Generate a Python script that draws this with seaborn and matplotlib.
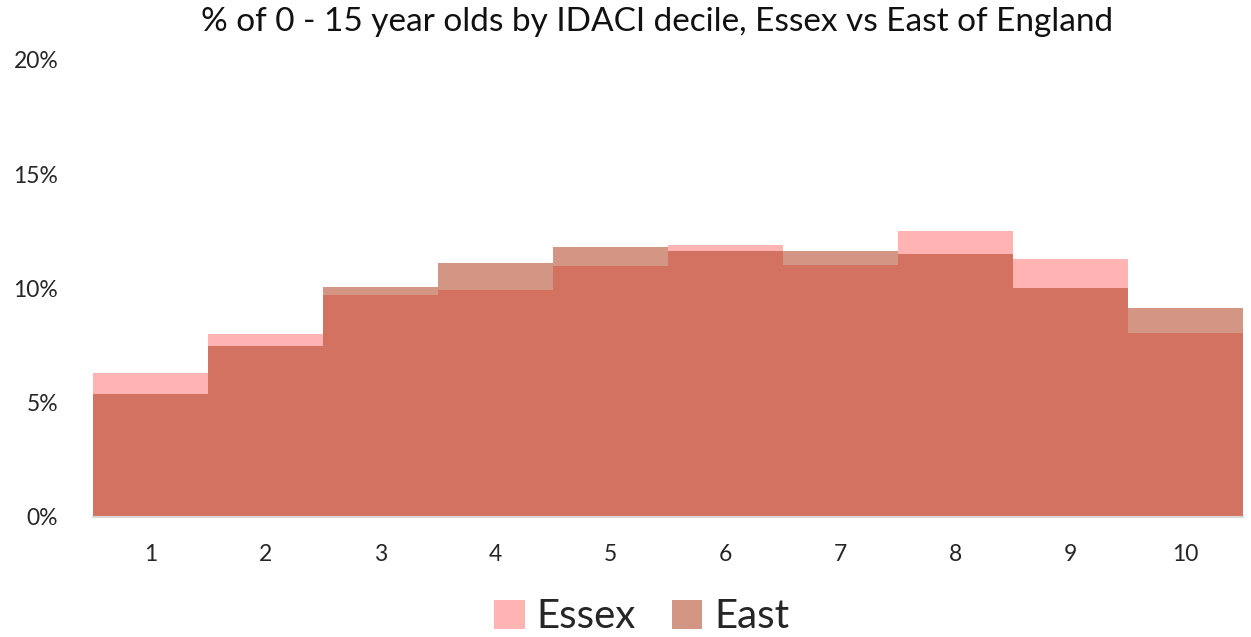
import matplotlib
matplotlib.use("Agg")
import matplotlib.pyplot as plt
import seaborn as sns
import pandas as pd
from matplotlib.patches import Patch
from matplotlib.ticker import FuncFormatter

deciles = ["1", "2", "3", "4", "5", "6", "7", "8", "9", "10"]
essex = [6.29, 8.00, 9.71, 9.91, 10.96, 11.91, 11.01, 12.53, 11.27, 8.06]
east = [5.36, 7.47, 10.04, 11.11, 11.79, 11.65, 11.62, 11.52, 10.00, 9.12]
yticks = [0, 5, 10, 15, 20]

ESSEX_COLOR = "#FFB3B3"
EAST_COLOR = "#AF3B1D"
EAST_ALPHA = 0.54

sns.set_theme(style="white")
plt.rcParams["font.family"] = ["Lato", "DejaVu Sans"]

df = pd.DataFrame({"decile": deciles, "Essex": essex, "East": east})

fig = plt.figure(figsize=(12.51, 6.37), dpi=100)
ax = fig.add_axes([93 / 1251, 1 - 516.5 / 637, (1243 - 93) / 1251, (516.5 - 60) / 637])

sns.barplot(data=df, x="decile", y="Essex", color=ESSEX_COLOR, width=1.0,
            saturation=1, linewidth=0, ax=ax, order=deciles)
sns.barplot(data=df, x="decile", y="East", color=EAST_COLOR, width=1.0,
            saturation=1, linewidth=0, alpha=EAST_ALPHA, ax=ax, order=deciles)

ax.set_xlim(-0.5, 9.5)
ax.set_ylim(0, 20)
ax.set_yticks(yticks)
ax.yaxis.set_major_formatter(FuncFormatter(lambda v, p: f"{v:.0f}%"))
ax.set_xlabel("")
ax.set_ylabel("")
for s in ["top", "right", "left"]:
    ax.spines[s].set_visible(False)
ax.spines["bottom"].set_color("#D9D9D9")
ax.spines["bottom"].set_linewidth(1.5)
ax.tick_params(axis="y", length=0, pad=25, labelsize=16.5, labelcolor="#262626")
ax.tick_params(axis="x", length=0, pad=20, labelsize=16.5, labelcolor="#262626")

fig.text(657 / 1251, 1 - 22 / 637, "% of 0 - 15 year olds by IDACI decile, Essex vs East of England",
         ha="center", va="center", fontsize=24, color="#111111")

handles = [Patch(facecolor=ESSEX_COLOR, edgecolor="none", label="Essex"),
           Patch(facecolor=EAST_COLOR, alpha=EAST_ALPHA, edgecolor="none", label="East")]
fig.legend(handles=handles, loc="center", bbox_to_anchor=(642 / 1251, 1 - 617 / 637), ncol=2,
           frameon=False, fontsize=29, handlelength=0.75, handleheight=0.75,
           handletextpad=0.3, columnspacing=0.9)

fig.savefig("out.png", dpi=100)
